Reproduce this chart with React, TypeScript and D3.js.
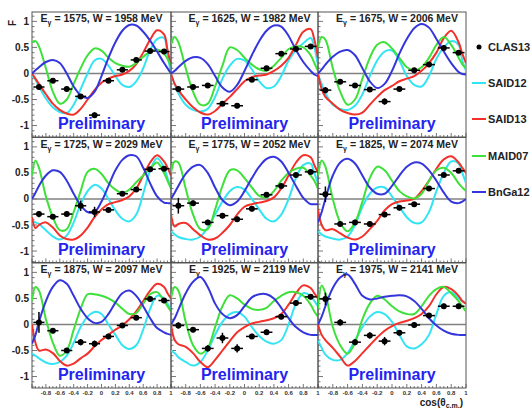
import React from "react";
import * as d3 from "d3";

// beam energies and W for the 9 panels
const energies = [1575, 1625, 1675, 1725, 1775, 1825, 1875, 1925, 1975];
const wValues = [1958, 1982, 2006, 2029, 2052, 2074, 2097, 2119, 2141];

// cos(theta) grid the model curves are sampled on
const cosGrid = [-1, -0.95, -0.9, -0.8, -0.7, -0.6, -0.5, -0.4, -0.3, -0.2, -0.1, 0, 0.1, 0.2, 0.3, 0.4, 0.5, 0.6, 0.7, 0.8, 0.9, 0.95, 1];

// CLAS13 data points
const clasCos = [-0.9, -0.7, -0.5, -0.3, -0.1, 0.1, 0.3, 0.5, 0.7, 0.9];
const clasF = [
  [-0.26, -0.14, -0.3, -0.44, -0.8, -0.14, 0.07, 0.26, 0.43, 0.42],
  [-0.3, -0.26, -0.23, -0.58, -0.62, -0.12, 0.1, 0.38, 0.47, 0.52],
  [-0.32, -0.16, -0.23, -0.31, -0.54, -0.3, 0.06, 0.17, 0.49, 0.4],
  [-0.29, -0.34, -0.29, -0.13, -0.25, -0.21, 0.1, 0.18, 0.57, 0.58],
  [-0.13, -0.08, -0.45, -0.32, -0.39, -0.19, 0.08, 0.25, 0.46, 0.52],
  [0.09, -0.48, -0.45, -0.48, -0.3, -0.17, -0.1, 0.2, 0.46, 0.54],
  [0.04, -0.12, -0.5, -0.34, -0.37, -0.23, -0.02, 0.13, 0.49, 0.46],
  [-0.02, -0.1, -0.46, -0.26, -0.46, -0.23, -0.15, 0.15, 0.41, 0.53],
  [0.49, 0.04, -0.34, -0.21, -0.32, -0.16, -0.01, 0.17, 0.35, 0.35],
];
const clasErr = [
  [0.05, 0.04, 0.04, 0.04, 0.05, 0.04, 0.04, 0.04, 0.04, 0.04],
  [0.05, 0.04, 0.04, 0.04, 0.05, 0.04, 0.04, 0.04, 0.04, 0.04],
  [0.06, 0.04, 0.04, 0.04, 0.06, 0.04, 0.04, 0.04, 0.04, 0.04],
  [0.06, 0.04, 0.04, 0.1, 0.1, 0.04, 0.04, 0.04, 0.04, 0.04],
  [0.15, 0.05, 0.05, 0.05, 0.05, 0.05, 0.04, 0.04, 0.04, 0.04],
  [0.15, 0.05, 0.05, 0.05, 0.05, 0.05, 0.04, 0.04, 0.04, 0.04],
  [0.2, 0.05, 0.05, 0.06, 0.06, 0.05, 0.04, 0.04, 0.04, 0.04],
  [0.06, 0.05, 0.06, 0.1, 0.08, 0.05, 0.05, 0.05, 0.05, 0.05],
  [0.12, 0.06, 0.06, 0.06, 0.08, 0.05, 0.05, 0.05, 0.05, 0.05],
];

const said12 = [
  [-0.03, -0.12, -0.25, -0.48, -0.65, -0.74, -0.76, -0.6, -0.3, 0.0, 0.25, 0.28, 0.15, -0.05, -0.22, -0.26, -0.15, 0.1, 0.45, 0.66, 0.68, 0.35, 0.0],
  [-0.03, -0.2, -0.38, -0.6, -0.7, -0.73, -0.68, -0.45, -0.1, 0.15, 0.28, 0.25, 0.08, -0.15, -0.28, -0.25, -0.05, 0.25, 0.45, 0.58, 0.68, 0.5, 0.15],
  [-0.03, -0.2, -0.38, -0.6, -0.68, -0.7, -0.62, -0.4, -0.05, 0.25, 0.42, 0.44, 0.25, -0.05, -0.22, -0.25, -0.05, 0.28, 0.5, 0.62, 0.55, 0.25, 0.05],
  [-0.43, -0.45, -0.48, -0.6, -0.72, -0.78, -0.7, -0.45, -0.1, 0.15, 0.27, 0.2, 0.0, -0.22, -0.38, -0.43, -0.3, 0.1, 0.55, 0.78, 0.6, 0.4, 0.2],
  [-0.62, -0.68, -0.73, -0.77, -0.78, -0.72, -0.55, -0.3, -0.05, 0.15, 0.23, 0.18, 0.0, -0.2, -0.38, -0.43, -0.3, 0.0, 0.4, 0.65, 0.68, 0.5, 0.3],
  [-0.62, -0.68, -0.72, -0.76, -0.78, -0.72, -0.5, -0.15, 0.1, 0.22, 0.22, 0.05, -0.15, -0.35, -0.46, -0.45, -0.25, 0.15, 0.5, 0.72, 0.68, 0.5, 0.3],
  [-0.56, -0.6, -0.65, -0.73, -0.76, -0.72, -0.6, -0.35, -0.05, 0.15, 0.24, 0.2, 0.0, -0.2, -0.4, -0.47, -0.4, -0.1, 0.3, 0.55, 0.5, 0.4, 0.3],
  [-0.5, -0.55, -0.63, -0.72, -0.79, -0.72, -0.5, -0.2, 0.05, 0.2, 0.24, 0.15, -0.05, -0.22, -0.33, -0.37, -0.3, 0.0, 0.4, 0.6, 0.55, 0.45, 0.35],
  [-0.31, -0.45, -0.58, -0.68, -0.68, -0.55, -0.3, -0.05, 0.15, 0.24, 0.2, 0.05, -0.2, -0.42, -0.46, -0.38, -0.2, 0.2, 0.55, 0.62, 0.5, 0.45, 0.4],
];

const said13 = [
  [0, -0.1, -0.2, -0.4, -0.58, -0.7, -0.77, -0.79, -0.68, -0.5, -0.32, -0.18, -0.1, -0.05, -0.02, 0.05, 0.18, 0.4, 0.65, 0.83, 0.75, 0.45, 0.15],
  [0, -0.2, -0.32, -0.5, -0.65, -0.75, -0.79, -0.72, -0.58, -0.45, -0.3, -0.15, -0.07, -0.04, -0.02, 0.05, 0.15, 0.3, 0.55, 0.8, 0.85, 0.65, 0.3],
  [0, -0.3, -0.45, -0.58, -0.7, -0.76, -0.79, -0.75, -0.6, -0.45, -0.32, -0.24, -0.15, -0.1, -0.05, 0.05, 0.2, 0.4, 0.68, 0.82, 0.6, 0.38, 0.2],
  [-0.35, -0.56, -0.5, -0.45, -0.55, -0.7, -0.77, -0.78, -0.7, -0.55, -0.35, -0.2, -0.1, -0.06, -0.02, 0.05, 0.2, 0.45, 0.7, 0.84, 0.72, 0.6, 0.45],
  [-0.3, -0.53, -0.48, -0.46, -0.58, -0.7, -0.78, -0.76, -0.65, -0.5, -0.3, -0.15, -0.1, -0.07, -0.04, 0.03, 0.2, 0.45, 0.7, 0.84, 0.8, 0.65, 0.5],
  [-0.2, -0.5, -0.6, -0.58, -0.66, -0.74, -0.78, -0.72, -0.58, -0.42, -0.22, -0.1, -0.05, -0.03, 0.0, 0.15, 0.35, 0.58, 0.76, 0.82, 0.7, 0.6, 0.5],
  [0, -0.35, -0.5, -0.48, -0.55, -0.7, -0.79, -0.75, -0.65, -0.56, -0.42, -0.3, -0.2, -0.1, -0.02, 0.1, 0.25, 0.45, 0.65, 0.78, 0.72, 0.6, 0.5],
  [0, -0.3, -0.38, -0.43, -0.55, -0.72, -0.82, -0.68, -0.5, -0.32, -0.15, -0.05, 0.02, 0.05, 0.08, 0.12, 0.2, 0.38, 0.6, 0.75, 0.7, 0.6, 0.5],
  [0, -0.2, -0.3, -0.45, -0.62, -0.79, -0.7, -0.55, -0.4, -0.25, -0.12, -0.03, 0.03, 0.07, 0.12, 0.2, 0.35, 0.58, 0.72, 0.68, 0.55, 0.45, 0.4],
];

const maid07 = [
  [0.6, 0.62, 0.52, 0.1, -0.35, -0.58, -0.5, -0.2, 0.1, 0.35, 0.48, 0.44, 0.3, 0.2, 0.15, 0.13, 0.2, 0.32, 0.42, 0.46, 0.38, 0.28, 0.15],
  [0.55, 0.7, 0.6, 0.1, -0.35, -0.6, -0.58, -0.25, 0.15, 0.5, 0.45, 0.3, 0.17, 0.08, 0.05, 0.15, 0.3, 0.47, 0.52, 0.5, 0.35, 0.2, 0.05],
  [0.5, 0.7, 0.65, 0.1, -0.35, -0.6, -0.5, -0.1, 0.3, 0.55, 0.6, 0.48, 0.3, 0.12, 0.06, 0.12, 0.3, 0.55, 0.7, 0.55, 0.3, 0.18, 0.1],
  [0.45, 0.74, 0.6, 0.05, -0.35, -0.6, -0.58, -0.25, 0.15, 0.52, 0.58, 0.48, 0.3, 0.18, 0.11, 0.18, 0.32, 0.45, 0.58, 0.7, 0.5, 0.35, 0.2],
  [0.5, 0.72, 0.7, 0.2, -0.3, -0.58, -0.58, -0.2, 0.25, 0.55, 0.55, 0.4, 0.22, 0.06, 0.03, 0.15, 0.35, 0.5, 0.58, 0.6, 0.45, 0.35, 0.2],
  [0.45, 0.74, 0.62, 0.0, -0.45, -0.62, -0.45, -0.05, 0.4, 0.62, 0.55, 0.35, 0.15, 0.05, 0.01, 0.1, 0.35, 0.55, 0.6, 0.5, 0.3, 0.22, 0.15],
  [0.45, 0.72, 0.65, 0.1, -0.35, -0.6, -0.5, -0.1, 0.3, 0.58, 0.58, 0.55, 0.5, 0.42, 0.3, 0.2, 0.22, 0.4, 0.58, 0.62, 0.45, 0.35, 0.25],
  [0.5, 0.72, 0.65, 0.05, -0.4, -0.56, -0.45, -0.05, 0.35, 0.56, 0.5, 0.38, 0.3, 0.28, 0.32, 0.45, 0.55, 0.62, 0.62, 0.55, 0.38, 0.25, 0.15],
  [0.3, 0.75, 0.6, -0.05, -0.4, -0.56, -0.35, 0.1, 0.4, 0.55, 0.48, 0.35, 0.25, 0.2, 0.2, 0.35, 0.55, 0.68, 0.72, 0.6, 0.45, 0.35, 0.25],
];

const bnga12 = [
  [0, 0.06, 0.12, 0.22, 0.26, 0.2, 0.0, -0.25, -0.42, -0.47, -0.35, -0.05, 0.3, 0.6, 0.82, 0.93, 0.92, 0.8, 0.63, 0.42, 0.2, 0.1, 0.0],
  [0, 0.05, 0.12, 0.24, 0.31, 0.3, 0.18, -0.05, -0.27, -0.35, -0.22, 0.05, 0.35, 0.62, 0.82, 0.92, 0.9, 0.72, 0.45, 0.22, 0.05, -0.02, -0.05],
  [0, 0.08, 0.17, 0.32, 0.42, 0.45, 0.35, 0.1, -0.15, -0.28, -0.2, 0.05, 0.38, 0.66, 0.87, 0.95, 0.88, 0.66, 0.42, 0.2, 0.03, -0.01, -0.02],
  [0, 0.12, 0.25, 0.45, 0.55, 0.52, 0.35, 0.1, -0.12, -0.25, -0.25, -0.05, 0.25, 0.55, 0.75, 0.84, 0.82, 0.6, 0.3, 0.05, -0.07, -0.08, -0.08],
  [0, 0.12, 0.25, 0.48, 0.62, 0.65, 0.5, 0.22, -0.02, -0.12, -0.05, 0.15, 0.4, 0.62, 0.77, 0.81, 0.72, 0.5, 0.25, 0.02, -0.1, -0.1, -0.1],
  [-0.45, -0.25, 0.0, 0.45, 0.7, 0.77, 0.68, 0.45, 0.22, 0.1, 0.1, 0.25, 0.45, 0.62, 0.7, 0.68, 0.55, 0.35, 0.12, -0.05, -0.08, -0.05, 0.0],
  [-0.37, -0.2, 0.05, 0.45, 0.72, 0.85, 0.78, 0.55, 0.3, 0.12, 0.03, 0.05, 0.2, 0.42, 0.6, 0.65, 0.55, 0.35, 0.12, -0.07, -0.15, -0.18, -0.2],
  [0, 0.12, 0.28, 0.6, 0.82, 0.91, 0.72, 0.4, 0.2, 0.12, 0.18, 0.35, 0.52, 0.58, 0.58, 0.5, 0.32, 0.12, -0.05, -0.15, -0.2, -0.2, -0.2],
  [0, 0.15, 0.35, 0.7, 0.9, 0.96, 0.78, 0.55, 0.48, 0.5, 0.53, 0.55, 0.56, 0.54, 0.45, 0.3, 0.12, -0.02, -0.12, -0.18, -0.2, -0.2, -0.2],
];

const yTickLabels = [1, 0.5, 0, -0.5, -1];
const xTickLabels = [-0.8, -0.6, -0.4, -0.2, 0, 0.2, 0.4, 0.6, 0.8];

const models = [
  { name: "SAID12", color: "#33e4f2", values: said12 },
  { name: "SAID13", color: "#f2312b", values: said13 },
  { name: "MAID07", color: "#3ee03a", values: maid07 },
  { name: "BnGa12", color: "#3535dc", values: bnga12 },
];

// layout
const cols = [[32, 171], [171, 318], [318, 466]];
const rowTops = [12, 137.5, 263];
const rowH = 125;
const font = "'Liberation Sans', Arial, sans-serif";

function Panel({ idx }: { idx: number }) {
  const col = idx % 3;
  const row = Math.floor(idx / 3);
  const [x0, x1] = cols[col];
  const top = rowTops[row];
  const x = d3.scaleLinear().domain([-1, 1]).range([x0, x1]);
  const y = d3.scaleLinear().domain([-1.22, 1.18]).range([top + rowH, top]);
  const line = d3
    .line<number>()
    .x((_, i) => x(cosGrid[i]))
    .y((d) => y(d))
    .curve(d3.curveCatmullRom.alpha(0.5));

  const yMinor = d3.range(-12, 12).map((k) => k / 10);
  const xMinor = d3.range(-20, 21).map((k) => k / 20);
  const bottom = top + rowH;
  const clipId = `clip${idx}`;

  return (
    <g>
      <defs>
        <clipPath id={clipId}>
          <rect x={x0} y={top} width={x1 - x0} height={rowH} />
        </clipPath>
      </defs>
      <rect x={x0} y={top} width={x1 - x0} height={rowH} fill="none" stroke="#555" strokeWidth={1} />
      {yMinor.map((v) => {
        const major = Math.abs(Math.round(v * 2) - v * 2) < 1e-6;
        return (
          <line key={"ym" + v} x1={x0} x2={x0 + (major ? 5 : 2.5)} y1={y(v)} y2={y(v)} stroke="#555" strokeWidth={0.8} />
        );
      })}
      {xMinor.map((c) => {
        const major = Math.abs(Math.round(c * 5) - c * 5) < 1e-6;
        return (
          <line key={"xm" + c} x1={x(c)} x2={x(c)} y1={bottom} y2={bottom - (major ? 4 : 2)} stroke="#555" strokeWidth={0.8} />
        );
      })}
      <line x1={x0} x2={x1} y1={y(0)} y2={y(0)} stroke="#808080" strokeWidth={1.5} />
      <g clipPath={`url(#${clipId})`}>
        {models.map((m) => (
          <path key={m.name} d={line(m.values[idx]) || ""} fill="none" stroke={m.color} strokeWidth={2} />
        ))}
      </g>
      {clasCos.map((c, i) => {
        const v = clasF[idx][i];
        const e = clasErr[idx][i];
        return (
          <g key={"p" + i}>
            <line x1={x(c - 0.08)} x2={x(c + 0.08)} y1={y(v)} y2={y(v)} stroke="#000" strokeWidth={1.5} />
            <line x1={x(c)} x2={x(c)} y1={y(v - e)} y2={y(v + e)} stroke="#000" strokeWidth={1.5} />
            <circle cx={x(c)} cy={y(v)} r={3} fill="#000" />
          </g>
        );
      })}
      <text
        x={(x0 + x1) / 2 + (col === 0 ? 0 : 5)}
        y={top + 10}
        textAnchor="middle"
        fontFamily={font}
        fontWeight="bold"
        fontSize={10.5}
        fill="#222"
      >
        E<tspan fontSize={7} dy={3}>γ</tspan>
        <tspan dy={-3}>{` = ${energies[idx]}, W = ${wValues[idx]} MeV`}</tspan>
      </text>
      <text
        x={(x0 + x1) / 2}
        y={bottom - 8}
        textAnchor="middle"
        fontFamily={font}
        fontWeight="bold"
        fontSize={16}
        fill="#2424f0"
      >
        Preliminary
      </text>
      {col === 0 &&
        yTickLabels.map((v) => (
          <text key={"yl" + v} x={29} y={y(v) + 3.5} textAnchor="end" fontFamily={font} fontWeight="bold" fontSize={10} fill="#222">
            {v}
          </text>
        ))}
      {row === 2 && (
        <g>
          {xTickLabels.map((c) => (
            <text key={"xl" + c} x={x(c)} y={bottom + 6.5} textAnchor="middle" fontFamily={font} fontWeight="bold" fontSize={6} fill="#333">
              {c}
            </text>
          ))}
          <text x={x(1)} y={bottom + 6.5} textAnchor="middle" fontFamily={font} fontWeight="bold" fontSize={6} fill="#333">
            1
          </text>
        </g>
      )}
    </g>
  );
}

export default function App() {
  const legendY = [83, 119, 156, 192];
  return (
    <svg width={532} height={408} style={{ position: "absolute", left: 0, top: 0, background: "#fff" }}>
      {energies.map((_, i) => (
        <Panel key={i} idx={i} />
      ))}
      <text
        transform="translate(16,20) rotate(-90)"
        textAnchor="end"
        fontFamily={font}
        fontWeight="bold"
        fontSize={10}
        fill="#222"
      >
        F
      </text>
      <text x={463} y={406} textAnchor="end" fontFamily={font} fontWeight="bold" fontSize={10} fill="#222">
        cos(θ<tspan fontSize={7} dy={2}>c.m.</tspan>
        <tspan dy={-2}>)</tspan>
      </text>
      <circle cx={479} cy={47} r={2.5} fill="#000" />
      <text x={488} y={51} fontFamily={font} fontWeight="bold" fontSize={11} fill="#222">
        CLAS13
      </text>
      {models.map((m, i) => (
        <g key={m.name}>
          <line x1={472} x2={486} y1={legendY[i]} y2={legendY[i]} stroke={m.color} strokeWidth={2} />
          <text x={488} y={legendY[i] + 4} fontFamily={font} fontWeight="bold" fontSize={11} fill="#222">
            {m.name}
          </text>
        </g>
      ))}
    </svg>
  );
}
